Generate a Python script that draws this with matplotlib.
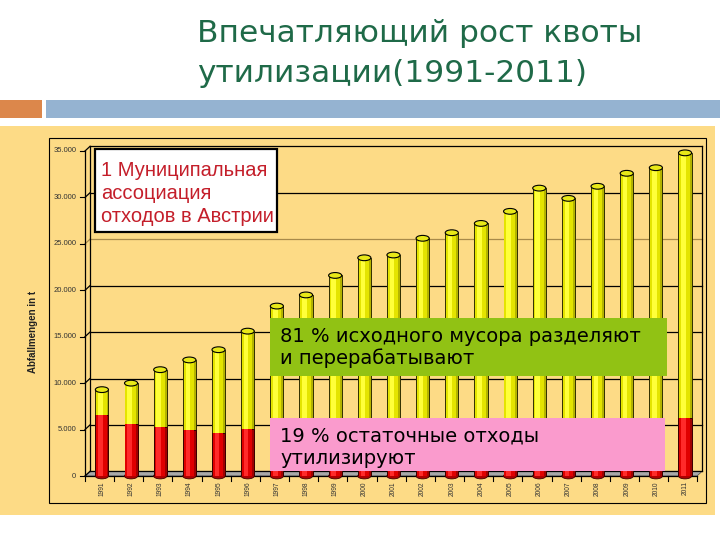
import matplotlib
matplotlib.use("Agg")
import matplotlib.pyplot as plt
from matplotlib.patches import Rectangle, Ellipse, Polygon

# data
years = list(range(1991, 2012))
total_t = [9300, 10000, 11450, 12500, 13600, 15600, 18300, 19500, 21600, 23500, 23800,
           25600, 26200, 27200, 28500, 31000, 29900, 31200, 32600, 33200, 34800]
rest_t = [6600, 5570, 5240, 4950, 4600, 5030, 5100, 5200, 5300, 5400, 5500,
          5600, 5700, 5800, 5900, 6000, 6000, 6100, 6300, 6100, 6300]
yticks = [0, 5000, 10000, 15000, 20000, 25000, 30000, 35000]
ytick_labels = ["0", "5.000", "10.000", "15.000", "20.000", "25.000", "30.000", "35.000"]

W, H = 720, 540
beige = "#fddb86"


def fx(x):
    return x / W


def fy(y):
    return 1 - y / H


def frect(x0, y0, x1, y1, **kw):
    # rectangle in figure pixels (y from the top)
    r = Rectangle((fx(x0), fy(y1)), (x1 - x0) / W, (y1 - y0) / H,
                  transform=fig.transFigure, **kw)
    fig.add_artist(r)
    return r


fig = plt.figure(figsize=(7.2, 5.4), dpi=100)
fig.patch.set_facecolor("white")

# header
fig.text(fx(197), fy(42), "Впечатляющий рост квоты", fontsize=22.5, color="#1f6a48",
         family="DejaVu Sans", va="baseline")
fig.text(fx(197), fy(82), "утилизации(1991-2011)", fontsize=22.5, color="#1f6a48",
         family="DejaVu Sans", va="baseline")
frect(0, 100, 42, 118, facecolor="#dc874b", edgecolor="none")
frect(46, 100, 720, 118, facecolor="#95b3d1", edgecolor="none")

# slide panel + chart frame
frect(0, 126, 715, 515, facecolor=beige, edgecolor="none", zorder=0)
frect(49, 138, 706, 503, facecolor="none", edgecolor="black", linewidth=0.8, zorder=1)

# chart axes = front face of the 3d box
ax = fig.add_axes([fx(85), fy(476), (697 - 85) / W, (476 - 151) / H])
ax.set_xlim(1990.42, 2011.41)
ax.set_ylim(0, 35000)
ax.axis("off")
ax.patch.set_alpha(0)

x0, x1 = 1990.42, 2011.41
dx = 0.1715  # 5 px depth offset
dy = 500

# floor
ax.add_patch(Polygon([(x0, 0), (x1, 0), (x1 + dx, dy), (x0 + dx, dy)], closed=True,
                     facecolor="#a9a9a9", edgecolor="#555555", linewidth=0.6,
                     clip_on=False, zorder=1))

# back wall + grid
for v in yticks:
    c = "#a88a4a" if v == 25000 else "black"
    ax.plot([x0 + dx, x1 + dx], [v + dy, v + dy], color=c, linewidth=0.9,
            clip_on=False, zorder=1)
    ax.plot([x0, x0 + dx], [v, v + dy], color=c, linewidth=0.9, clip_on=False, zorder=1)
ax.plot([x0 + dx, x0 + dx], [dy, 35000 + dy], color="black", linewidth=0.9,
        clip_on=False, zorder=1)
ax.plot([x1 + dx, x1 + dx], [dy, 35000 + dy], color="black", linewidth=0.9,
        clip_on=False, zorder=1)

# front axis lines and ticks
ax.plot([x0, x0], [0, 35000], color="black", linewidth=0.9, clip_on=False, zorder=2)
ax.plot([x0, x1], [0, 0], color="black", linewidth=0.9, clip_on=False, zorder=2)
for v, lab in zip(yticks, ytick_labels):
    ax.plot([x0 - 0.17, x0], [v, v], color="black", linewidth=0.8, clip_on=False)
    ax.text(x0 - 0.3, v, lab, ha="right", va="center", fontsize=5.5,
            family="Liberation Sans", color="#333333")
for k in range(len(years) + 1):
    xt = x0 + k
    ax.plot([xt, xt], [0, -500], color="black", linewidth=0.8, clip_on=False)
for yr in years:
    ax.text(yr, -550, str(yr), rotation=90, ha="center", va="top", fontsize=4.8,
            family="Liberation Sans", color="#333333")

# cylinders
w = 0.45
eh = 620
for yr, tot, rest in zip(years, total_t, rest_t):
    ax.add_patch(Ellipse((yr, 0), w, eh, facecolor="#b00000", edgecolor="#400000",
                         linewidth=0.6, zorder=2, clip_on=False))
    ax.bar(yr, tot, width=w, color="#b4b400", edgecolor="#303000", linewidth=0.7, zorder=3)
    ax.bar(yr - 0.04 * w, tot, width=0.78 * w, color="#e4e400", linewidth=0, zorder=3)
    ax.bar(yr - 0.12 * w, tot, width=0.34 * w, color="#ffff3a", linewidth=0, zorder=3)
    ax.bar(yr, rest, width=w, color="#a00000", edgecolor="#3a0000", linewidth=0.7, zorder=4)
    ax.bar(yr - 0.04 * w, rest, width=0.78 * w, color="#e00000", linewidth=0, zorder=4)
    ax.bar(yr - 0.12 * w, rest, width=0.34 * w, color="#ff2a2a", linewidth=0, zorder=4)
    ax.add_patch(Ellipse((yr, tot), w, eh, facecolor="#e8e818", edgecolor="black",
                         linewidth=0.8, zorder=5, clip_on=False))

fig.text(fx(33), fy(332), "Abfallmengen in t", rotation=90, ha="center", va="center",
         fontsize=7, fontweight="bold", family="Liberation Sans", color="#222222")

# callout boxes
frect(95, 149, 277, 232, facecolor="white", edgecolor="black", linewidth=1.6, zorder=10)
for txt, yb in zip(["1 Муниципальная", "ассоциация", "отходов в Австрии"], [175.5, 199, 222.5]):
    fig.text(fx(101), fy(yb), txt, fontsize=14.5, color="#c41e2a",
             family="Liberation Sans", va="baseline", zorder=11)

frect(270, 318, 667, 376, facecolor="#91c214", edgecolor="none", zorder=10)
for txt, yb in zip(["81 % исходного мусора разделяют", "и перерабатывают"], [342, 364]):
    fig.text(fx(280), fy(yb), txt, fontsize=14, color="black",
             family="DejaVu Sans", va="baseline", zorder=11)

frect(270, 418, 665, 471, facecolor="#fa9bcd", edgecolor="none", zorder=10)
for txt, yb in zip(["19 % остаточные отходы", "утилизируют"], [441.5, 464]):
    fig.text(fx(280), fy(yb), txt, fontsize=14, color="black",
             family="DejaVu Sans", va="baseline", zorder=11)

fig.savefig("out.png", dpi=100)
